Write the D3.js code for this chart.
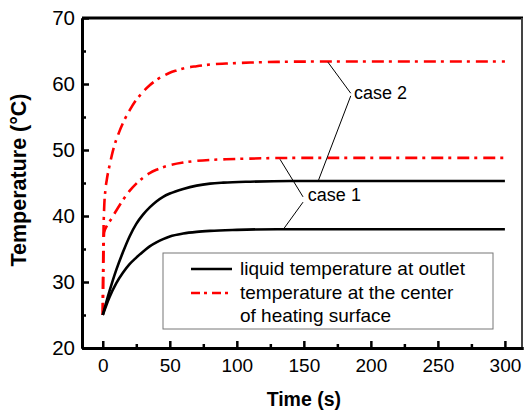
<!DOCTYPE html>
<html>
<head>
<meta charset="utf-8">
<script src="https://cdn.jsdelivr.net/npm/d3@7"></script>
<style>
  body { margin: 0; background: #fff; }
  svg { display: block; font-family: "Liberation Sans", Arial, sans-serif; }
</style>
</head>
<body>
<svg></svg>
<script>
// values, [time (s), temperature (°C)]
let liquidCase1 = [[0,25],[5,27.7],[10,29.8],[15,31.4],[20,32.7],[25,33.7],[30,34.6],[35,35.4],[40,36.0],[45,36.5],[50,36.9],[60,37.35],[70,37.6],[80,37.75],[100,37.9],[130,38],[300,38]];
let liquidCase2 = [[0,25],[5,28.6],[10,31.8],[15,34.5],[20,36.9],[25,38.8],[30,40.2],[35,41.3],[40,42.2],[45,42.9],[50,43.4],[60,44.1],[70,44.6],[80,44.9],[90,45.05],[110,45.2],[140,45.3],[300,45.3]];
let centerCase1 = [[0,25],[1,37.5],[3,38.5],[6.5,39.6],[10,40.8],[15,42.4],[20,43.8],[25,44.9],[30,45.8],[35,46.5],[40,47.0],[45,47.4],[50,47.7],[60,48.1],[70,48.35],[80,48.5],[92,48.6],[110,48.7],[140,48.8],[300,48.8]];
let centerCase2 = [[0,25],[0.5,37],[1,41],[2,44],[3,45.5],[5,47.6],[8,50.2],[12,52.6],[16,54.5],[20,56.0],[25,57.6],[30,58.8],[35,59.8],[40,60.6],[45,61.2],[50,61.7],[55,62.05],[60,62.35],[70,62.7],[80,62.95],[92,63.1],[110,63.25],[130,63.35],[160,63.4],[300,63.4]];

let xMajor = [0,50,100,150,200,250,300];
let xMinor = [25,75,125,175,225,275];
let yMajor = [20,30,40,50,60,70];
let yMinor = [25,35,45,55,65];

let legendLabels = ["liquid temperature at outlet", "temperature at the center", "of heating surface"];
let caseLabels = ["case 1", "case 2"];
// leader lines for the case labels, in data units
let case1Leaders = [[[132.2,48.6],[149.4,42.9]], [[149.4,42.1],[134.4,37.9]]];
let case2Leaders = [[[168,63.3],[185,58.6]], [[185,58.2],[160.8,45.35]]];
let caseLabelPos = [[153,42.3],[187.4,57.7]];

let width = 525;
let height = 412;
let margin = {top: 18, right: 2, bottom: 64, left: 82};
let svg = d3.select("svg").attr("width", width).attr("height", height);

let x = d3.scaleLinear().domain([-15.5, 313.5]).range([margin.left, width - margin.right]);
let y = d3.scaleLinear().domain([20, 70]).range([height - margin.bottom, margin.top]);

let line = d3.line().x(d => x(d[0])).y(d => y(d[1])).curve(d3.curveMonotoneX);

// frame top and right
svg.append("line")
  .attr("x1", x.range()[0]).attr("x2", x.range()[1])
  .attr("y1", y(70)).attr("y2", y(70))
  .attr("stroke", "#000").attr("stroke-width", 3);
svg.append("line")
  .attr("x1", x.range()[1] - 1).attr("x2", x.range()[1] - 1)
  .attr("y1", y(70)).attr("y2", y(20))
  .attr("stroke", "#444").attr("stroke-width", 2);

// curves
let red = "#ff0000";
let dash = "12,5,3,6";
svg.append("path").datum(centerCase2).attr("d", line)
  .attr("fill", "none").attr("stroke", red).attr("stroke-width", 2.6).attr("stroke-dasharray", dash);
svg.append("path").datum(centerCase1).attr("d", line)
  .attr("fill", "none").attr("stroke", red).attr("stroke-width", 2.6).attr("stroke-dasharray", dash);
svg.append("path").datum(liquidCase2).attr("d", line)
  .attr("fill", "none").attr("stroke", "#000").attr("stroke-width", 2.6);
svg.append("path").datum(liquidCase1).attr("d", line)
  .attr("fill", "none").attr("stroke", "#000").attr("stroke-width", 2.6);

// leaders and case labels
let leader = d3.line().x(d => x(d[0])).y(d => y(d[1]));
case1Leaders.concat(case2Leaders).forEach(seg => {
  svg.append("path").attr("d", leader(seg))
    .attr("fill", "none").attr("stroke", "#000").attr("stroke-width", 1);
});
caseLabels.forEach((t, i) => {
  svg.append("text")
    .attr("x", x(caseLabelPos[i][0])).attr("y", y(caseLabelPos[i][1]))
    .attr("font-size", 18).attr("fill", "#000").text(t);
});

// axes
let xAxis = d3.axisBottom(x).tickValues(xMajor).tickSize(-7).tickSizeOuter(0).tickPadding(11);
let xAxisMinor = d3.axisBottom(x).tickValues(xMinor).tickSize(-4).tickSizeOuter(0).tickFormat("");
let yAxis = d3.axisLeft(y).tickValues(yMajor).tickSize(-7).tickSizeOuter(0).tickPadding(7);
let yAxisMinor = d3.axisLeft(y).tickValues(yMinor).tickSize(-4).tickSizeOuter(0).tickFormat("");

let gx = svg.append("g").attr("transform", "translate(0," + y(20) + ")").call(xAxis);
svg.append("g").attr("transform", "translate(0," + y(20) + ")").call(xAxisMinor);
let gy = svg.append("g").attr("transform", "translate(" + x.range()[0] + ",0)").call(yAxis);
svg.append("g").attr("transform", "translate(" + x.range()[0] + ",0)").call(yAxisMinor);

svg.selectAll(".domain").attr("stroke", "#000").attr("stroke-width", 3);
svg.selectAll(".tick line").attr("stroke", "#000").attr("stroke-width", 2.5);
gx.selectAll("text").attr("font-size", 19).attr("font-family", "Liberation Sans, Arial").attr("fill", "#000");
gy.selectAll("text").attr("font-size", 20.5).attr("font-family", "Liberation Sans, Arial").attr("fill", "#000");

// axis titles
svg.append("text")
  .attr("x", x(150)).attr("y", 406)
  .attr("text-anchor", "middle").attr("font-size", 19.5).attr("font-weight", "bold")
  .text("Time (s)");
svg.append("text")
  .attr("transform", "translate(26,180) rotate(-90)")
  .attr("text-anchor", "middle").attr("font-size", 21.5).attr("font-weight", "bold")
  .text("Temperature (°C)");

// legend
let legend = svg.append("g").attr("transform", "translate(163,253)");
legend.append("rect").attr("width", 330).attr("height", 76)
  .attr("fill", "#fff").attr("stroke", "#777").attr("stroke-width", 1);
legend.append("line").attr("x1", 28).attr("x2", 69).attr("y1", 16).attr("y2", 16)
  .attr("stroke", "#000").attr("stroke-width", 2.6);
legend.append("line").attr("x1", 28).attr("x2", 69).attr("y1", 40).attr("y2", 40)
  .attr("stroke", red).attr("stroke-width", 2.6).attr("stroke-dasharray", "9,4,3,5");
legendLabels.forEach((t, i) => {
  legend.append("text").attr("x", 77).attr("y", 22 + i * 23.5)
    .attr("font-size", 19).attr("fill", "#000").text(t);
});
</script>
</body>
</html>
